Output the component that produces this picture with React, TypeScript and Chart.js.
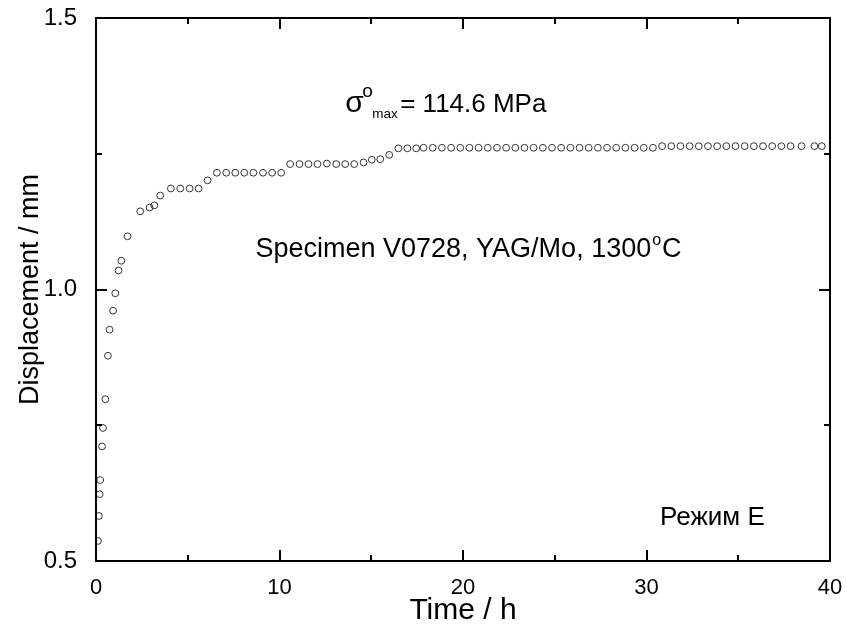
import React, { useEffect, useRef } from "react";
import { Chart, registerables } from "chart.js";

Chart.register(...registerables);

// ---- data ----
const timeH = [
  0.11, 0.16, 0.2, 0.23, 0.33, 0.38, 0.51, 0.65, 0.74, 0.93, 1.05, 1.23, 1.38, 1.72,
  2.41, 2.92, 3.18, 3.5, 4.08, 4.59, 5.1, 5.59, 6.08, 6.59,
  7.1, 7.59, 8.08, 8.58, 9.1, 9.6, 10.09,
  10.58, 11.09, 11.58, 12.07, 12.58, 13.09, 13.58, 14.07,
  14.58, 15.03, 15.49, 15.98,
  16.48, 16.97, 17.45, 17.85, 18.35, 18.85, 19.35, 19.85, 20.35, 20.85, 21.35, 21.85,
  22.35, 22.85, 23.35, 23.85, 24.35, 24.85, 25.35, 25.85, 26.35, 26.85, 27.35, 27.85,
  28.35, 28.85, 29.35, 29.85, 30.35,
  30.85, 31.35, 31.85, 32.35, 32.85, 33.35, 33.85, 34.35, 34.85, 35.35, 35.85, 36.35,
  36.85, 37.35, 37.85, 38.45, 39.15, 39.55,
];
const displacementMm = [
  0.537, 0.583, 0.623, 0.649, 0.711, 0.745, 0.798, 0.878, 0.926, 0.961, 0.993, 1.035, 1.053, 1.098,
  1.144, 1.151, 1.155, 1.173, 1.186, 1.186, 1.186, 1.186, 1.201, 1.215,
  1.215, 1.215, 1.215, 1.215, 1.215, 1.215, 1.215,
  1.231, 1.231, 1.231, 1.231, 1.232, 1.231, 1.231, 1.231,
  1.234, 1.239, 1.24, 1.248,
  1.26, 1.26, 1.26, 1.261, 1.261, 1.261, 1.261, 1.261, 1.261, 1.261, 1.261, 1.261,
  1.261, 1.261, 1.261, 1.261, 1.261, 1.261, 1.261, 1.261, 1.261, 1.261, 1.261, 1.261,
  1.261, 1.261, 1.261, 1.261, 1.261,
  1.264, 1.264, 1.264, 1.264, 1.264, 1.264, 1.264, 1.264, 1.264, 1.264, 1.264, 1.264,
  1.264, 1.264, 1.264, 1.264, 1.264, 1.264,
];

const xMajorTicks = [0, 10, 20, 30, 40];
const xMinorTicks = [5, 15, 25, 35];
const yMajorTicks = [0.5, 1.0, 1.5];
const yMinorTicks = [0.75, 1.25];

const xTitle = "Time / h";
const yTitle = "Displacement / mm";
const stressValueText = "= 114.6 MPa";
const specimenText = "Specimen V0728, YAG/Mo, 1300";
const modeText = "Режим E";

const FONT = "'Liberation Sans', Arial, Helvetica, sans-serif";

const framePlugin = {
  id: "frameTicks",
  afterDraw(chart: any) {
    const { ctx, chartArea } = chart;
    const xs = chart.scales.x;
    const ys = chart.scales.y;
    const { left, right, top, bottom } = chartArea;
    ctx.save();
    ctx.strokeStyle = "#000";
    ctx.lineWidth = 2;
    ctx.strokeRect(left, top, right - left, bottom - top);
    const major = 11;
    const minor = 6;
    ctx.beginPath();
    const xt = (v: number, len: number) => {
      const px = Math.round(xs.getPixelForValue(v));
      ctx.moveTo(px, bottom);
      ctx.lineTo(px, bottom - len);
      ctx.moveTo(px, top);
      ctx.lineTo(px, top + len);
    };
    const yt = (v: number, len: number) => {
      const py = Math.round(ys.getPixelForValue(v));
      ctx.moveTo(left, py);
      ctx.lineTo(left + len, py);
      ctx.moveTo(right, py);
      ctx.lineTo(right - len, py);
    };
    xMajorTicks.forEach((v) => xt(v, major));
    xMinorTicks.forEach((v) => xt(v, minor));
    yMajorTicks.forEach((v) => yt(v, major));
    yMinorTicks.forEach((v) => yt(v, minor));
    ctx.stroke();

    // annotations
    ctx.fillStyle = "#000";
    ctx.textBaseline = "alphabetic";
    ctx.textAlign = "left";

    // sigma line
    let x0 = xs.getPixelForValue(13.58);
    let y0 = ys.getPixelForValue(1.327);
    ctx.font = `30px ${FONT}`;
    ctx.fillText("σ", x0, y0);
    ctx.font = `19px ${FONT}`;
    ctx.fillText("o", x0 + 17, y0 - 15);
    ctx.font = `13.5px ${FONT}`;
    ctx.fillText("max", x0 + 27, y0 + 6);
    ctx.font = `26px ${FONT}`;
    ctx.fillText(stressValueText, x0 + 55, y0);

    // specimen line
    x0 = xs.getPixelForValue(8.69);
    y0 = ys.getPixelForValue(1.059);
    ctx.font = `27px ${FONT}`;
    ctx.fillText(specimenText, x0, y0);
    const w = ctx.measureText(specimenText).width;
    ctx.font = `16px ${FONT}`;
    ctx.fillText("o", x0 + w + 1, y0 - 12);
    const ow = ctx.measureText("o").width;
    ctx.font = `27px ${FONT}`;
    ctx.fillText("C", x0 + w + ow + 2, y0);

    // mode label
    x0 = xs.getPixelForValue(30.74);
    y0 = ys.getPixelForValue(0.566);
    ctx.font = `26px ${FONT}`;
    ctx.fillText(modeText, x0, y0);
    ctx.restore();
  },
};

const zeroPad = (s: any) => {
  s.paddingTop = 0;
  s.paddingBottom = 0;
  s.paddingLeft = 0;
  s.paddingRight = 0;
};

export default function App() {
  const ref = useRef<HTMLCanvasElement | null>(null);
  useEffect(() => {
    if (!ref.current) return;
    const points = timeH.map((t, i) => ({ x: t, y: displacementMm[i] }));
    const chart = new Chart(ref.current, {
      type: "scatter",
      data: {
        datasets: [
          {
            data: points,
            pointStyle: "circle",
            pointRadius: 3.4,
            pointBorderWidth: 1,
            borderColor: "#333",
            backgroundColor: "rgba(255,255,255,0)",
            pointBackgroundColor: "rgba(255,255,255,0)",
            pointBorderColor: "#333",
          },
        ],
      },
      options: {
        animation: false,
        responsive: true,
        maintainAspectRatio: false,
        layout: { padding: { top: 18, right: 17, left: 0, bottom: 0 } },
        plugins: { legend: { display: false }, tooltip: { enabled: false } },
        scales: {
          x: {
            type: "linear",
            min: 0,
            max: 40,
            grid: { display: false, drawTicks: false },
            border: { display: false },
            ticks: {
              stepSize: 10,
              padding: 14,
              color: "#000",
              font: { family: FONT, size: 22 },
              maxRotation: 0,
            },
            title: {
              display: true,
              text: xTitle,
              color: "#000",
              font: { family: FONT, size: 30 },
              padding: { top: 0, bottom: 4 },
            },
            afterFit: (s: any) => {
              s.height = 72;
              zeroPad(s);
            },
          },
          y: {
            type: "linear",
            min: 0.5,
            max: 1.5,
            grid: { display: false, drawTicks: false },
            border: { display: false },
            ticks: {
              stepSize: 0.5,
              padding: 19,
              color: "#000",
              font: { family: FONT, size: 24 },
              callback: (v: any) => Number(v).toFixed(1),
            },
            title: {
              display: true,
              text: yTitle,
              color: "#000",
              font: { family: FONT, size: 27 },
              padding: { top: 14, bottom: 0 },
            },
            afterFit: (s: any) => {
              s.width = 96;
              zeroPad(s);
            },
          },
        },
      },
      plugins: [framePlugin],
    });
    return () => chart.destroy();
  }, []);
  return (
    <div style={{ position: "absolute", left: 0, top: 0, width: 847, height: 633, background: "#fff" }}>
      <canvas ref={ref} />
    </div>
  );
}
